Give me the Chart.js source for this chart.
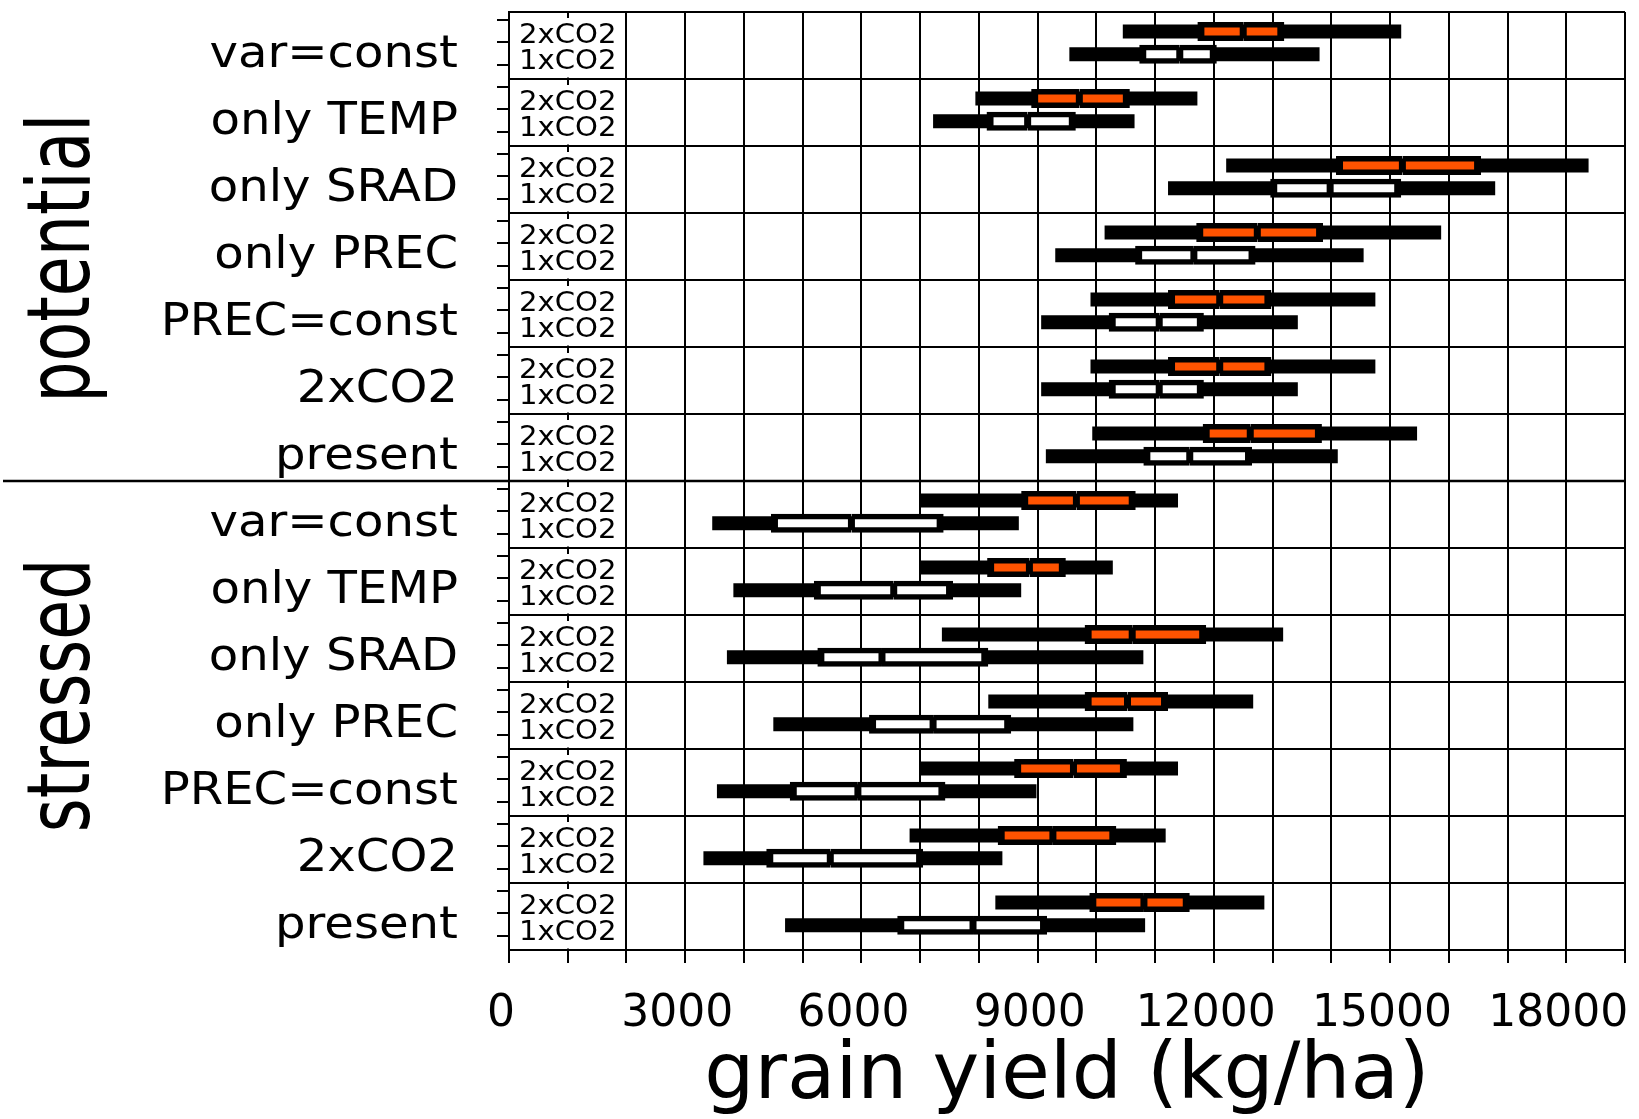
<!DOCTYPE html>
<html><head><meta charset="utf-8">
<script src="https://cdn.jsdelivr.net/npm/chart.js@4/dist/chart.umd.min.js"></script>
<style>html,body{margin:0;padding:0;background:#fff;} canvas{display:block;}</style>
</head><body>
<canvas id="c" width="1639" height="1119"></canvas>
<script>
// ---- data (rows top to bottom: potential block then stressed block) ----
const groups = ['var=const','only TEMP','only SRAD','only PREC','PREC=const','2xCO2','present'];
const blocks = ['potential','stressed'];
const co2Levels = ['2xCO2','1xCO2'];
const xTickLabels = [0,3000,6000,9000,12000,15000,18000];

// 2xCO2 rows: whisker min, box q1, median, box q3, whisker max (kg/ha)
const twoMin = [10450, 7940,12210,10140, 9900, 9900, 9930, 6990, 6990, 7370, 8160, 6990, 6820, 8280];
const twoQ1  = [11720, 8890,14080,11700,11220,11220,11810, 8720, 8140, 9800, 9800, 8600, 8320, 9880];
const twoMed = [12500, 9710,15210,12740,12100,12100,12620, 9660, 8860,10610,10530, 9610, 9260,10810];
const twoQ3  = [13200,10570,16550,13860,12980,12980,13840,10670, 9480,11870,11220,10520,10340,11590];
const twoMax = [15190,11720,18380,15870,14750,14750,15460,11390,10280,13180,12670,11390,11180,12860];
// 1xCO2 rows
const oneMin = [ 9540, 7220,11220, 9300, 9060, 9060, 9140, 3460, 3820, 3710, 4500, 3540, 3310, 4700];
const oneQ1  = [10730, 8130,12960,10660,10210,10210,10800, 4460, 5190, 5250, 6130, 4780, 4380, 6610];
const oneMed = [11420, 8830,13980,11660,11070,11070,11590, 5830, 6550, 6350, 7220, 5940, 5470, 7900];
const oneQ3  = [12050, 9650,15190,12710,11830,11830,12650, 7400, 7560, 8160, 8550, 7430, 7050, 9160];
const oneMax = [13800,10650,16790,14550,13430,13430,14110, 8680, 8720,10800,10630, 8980, 8400,10830];

// ---- derived ----
const rowLabels = blocks.flatMap(() => groups);
const N = rowLabels.length;
const ORANGE = '#ff5300';
const OFF_TWO = 0.58, OFF_ONE = 1.26;      // position of the two bars inside a group (axis units)
const pos = (i, off) => 2 * i + off;

function boxSets(minA, q1A, medA, q3A, maxA, off, fill, name) {
  const bw = 5.5, bs = 7, bm = 3.5;
  return [
    { label: name + ' range', data: minA.map((v, i) => ({ x: [v, maxA[i]], y: pos(i, off) })),
      backgroundColor: '#000', borderWidth: 0, barThickness: 14, order: 3 },
    { label: name + ' lower', data: q1A.map((v, i) => ({ x: [v, medA[i]], y: pos(i, off) })),
      backgroundColor: fill, borderColor: '#000', borderSkipped: false,
      borderWidth: { top: bw, bottom: bw, left: bs, right: bm }, barThickness: 19, order: 1 },
    { label: name + ' upper', data: medA.map((v, i) => ({ x: [v, q3A[i]], y: pos(i, off) })),
      backgroundColor: fill, borderColor: '#000', borderSkipped: false,
      borderWidth: { top: bw, bottom: bw, left: bm, right: bs }, barThickness: 19, order: 1 }
  ];
}

const datasets = [
  ...boxSets(twoMin, twoQ1, twoMed, twoQ3, twoMax, OFF_TWO, ORANGE, co2Levels[0]),
  ...boxSets(oneMin, oneQ1, oneMed, oneQ3, oneMax, OFF_ONE, '#ffffff', co2Levels[1])
].map(d => Object.assign(d, { type: 'bar', grouped: false, inflateAmount: 0, xAxisID: 'x', yAxisID: 'y' }));

const leftTicks = [];
for (let k = 0; ; k++) { const v = 0.24 + k * 2 / 3; if (v > 28) break; leftTicks.push(v); }

function stretchedText(ctx, text, x, y, sx, sy, align, baseline, font, rot) {
  ctx.save();
  ctx.translate(x, y);
  if (rot) ctx.rotate(rot);
  ctx.scale(sx, sy);
  ctx.font = font; ctx.textAlign = align; ctx.textBaseline = baseline; ctx.fillStyle = '#000';
  ctx.fillText(text, 0, 0);
  ctx.restore();
}

const decor = {
  id: 'decor',
  beforeDatasetsDraw(chart) {
    const { ctx, scales: { x, y } } = chart;
    const xl = x.getPixelForValue(0) + 1.5, xr = x.getPixelForValue(2000) - 1.5;
    ctx.save();
    ctx.fillStyle = '#fff';
    for (let i = 0; i < N; i++) {
      const t = y.getPixelForValue(2 * i), b = y.getPixelForValue(2 * i + 2);
      ctx.fillRect(xl, t + 6, xr - xl, b - t - 7.5);
    }
    ctx.restore();
  },
  afterDraw(chart) {
    const { ctx, chartArea: ca, scales: { x, y } } = chart;
    const cx = x.getPixelForValue(1000);
    for (let i = 0; i < N; i++) {
      const t = y.getPixelForValue(2 * i);
      stretchedText(ctx, co2Levels[0], cx, t + 24, 1.12, 1, 'center', 'middle', '26px "DejaVu Sans"');
      stretchedText(ctx, co2Levels[1], cx, t + 50, 1.12, 1, 'center', 'middle', '26px "DejaVu Sans"');
      stretchedText(ctx, rowLabels[i], 458, t + 55, 1.07, 1, 'right', 'alphabetic', '45px "DejaVu Sans"');
    }
    const blockCenters = [7.35, 20.4];
    blocks.forEach((b, k) => {
      stretchedText(ctx, b, 89, y.getPixelForValue(blockCenters[k]), 1, 1.35, 'center', 'alphabetic', '65px "DejaVu Sans"', -Math.PI / 2);
    });
    // divider between the two blocks
    ctx.save();
    ctx.strokeStyle = '#000'; ctx.lineWidth = 2.5;
    const yd = Math.round(y.getPixelForValue(groups.length * 2));
    ctx.beginPath(); ctx.moveTo(3, yd); ctx.lineTo(ca.right, yd); ctx.stroke();
    ctx.restore();
  }
};

new Chart(document.getElementById('c'), {
  data: { datasets },
  plugins: [decor],
  options: {
    responsive: false, animation: false, devicePixelRatio: 1,
    indexAxis: 'y',
    layout: { autoPadding: false, padding: { left: 0, right: 14, top: 12, bottom: 0 } },
    plugins: { legend: { display: false }, tooltip: { enabled: false } },
    scales: {
      x: {
        type: 'linear', position: 'bottom', min: 0, max: 19000, offset: false,
        ticks: { stepSize: 1000, autoSkip: false, maxRotation: 0, padding: 25, labelOffset: -8,
                 color: '#000', font: { family: 'DejaVu Sans', size: 44, lineHeight: 1.2 },
                 callback: v => xTickLabels.includes(v) ? String(v) : '' },
        grid: { color: '#000', lineWidth: 2, tickLength: 13, offset: false },
        border: { color: '#000', width: 2 },
        title: { display: true, text: 'grain yield (kg/ha)', color: '#000',
                 font: { family: 'DejaVu Sans', size: 79, lineHeight: 1 }, padding: { top: 0, bottom: 2 } },
        afterFit: s => { s.height = 169; s.paddingLeft = 0; s.paddingRight = 0; }
      },
      y: {
        type: 'linear', position: 'left', reverse: true, min: 0, max: 28, weight: 0, offset: false,
        ticks: { stepSize: 2, display: false },
        grid: { color: '#000', lineWidth: 2, drawTicks: false, offset: false },
        border: { color: '#000', width: 2 },
        afterFit: s => { s.width = 0; s.paddingTop = 0; s.paddingBottom = 0; }
      },
      y2: {
        type: 'linear', position: 'left', reverse: true, min: 0, max: 28, weight: 1, offset: false,
        ticks: { display: false },
        grid: { drawOnChartArea: false, color: '#000', lineWidth: 2, tickLength: 12, offset: false },
        border: { display: false },
        afterBuildTicks: s => { s.ticks = leftTicks.map(v => ({ value: v })); },
        afterFit: s => { s.width = 509; s.paddingTop = 0; s.paddingBottom = 0; }
      }
    }
  }
});
</script>
</body></html>
